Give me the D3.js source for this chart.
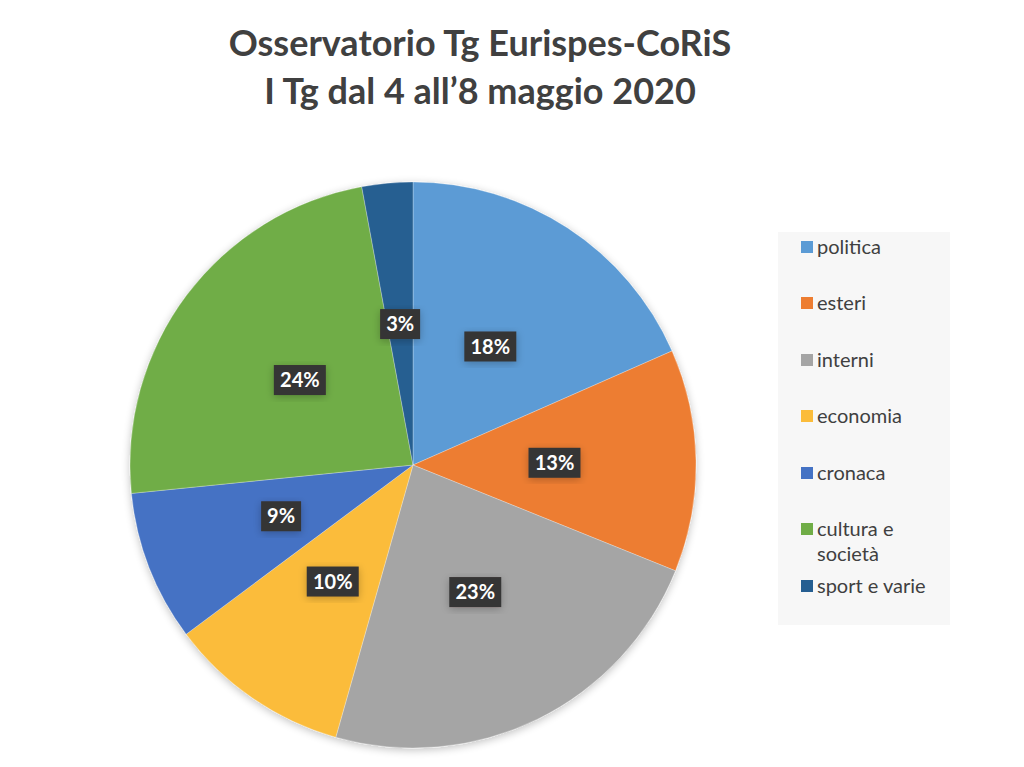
<!DOCTYPE html>
<html><head><meta charset="utf-8">
<script src="https://cdn.jsdelivr.net/npm/d3@7"></script>
<style>body{margin:0;background:#fff;} svg{display:block;}</style>
</head><body>
<svg id="c" width="1024" height="767"></svg>
<script>
const categories = ["politica","esteri","interni","economia","cronaca","cultura e società","sport e varie"];
const values = [18.4, 12.7, 23.3, 10.4, 8.6, 23.7, 2.9];
const labels = ["18%","13%","23%","10%","9%","24%","3%"];
const legendLines = [["politica"],["esteri"],["interni"],["economia"],["cronaca"],["cultura e","società"],["sport e varie"]];
const colors = ["#5B9BD5","#ED7D31","#A5A5A5","#FBBC3A","#4472C4","#70AD47","#255E91"];
const titleLines = ["Osservatorio Tg Eurispes-CoRiS","I Tg dal 4 all’8 maggio 2020"];

const svg = d3.select("#c");
const font = "Lato, 'Open Sans', sans-serif";

const defs = svg.append("defs");
const f = defs.append("filter").attr("id","sh").attr("x","-20%").attr("y","-20%").attr("width","140%").attr("height","140%");
f.append("feGaussianBlur").attr("in","SourceAlpha").attr("stdDeviation",4);
f.append("feOffset").attr("dx",0).attr("dy",2).attr("result","b");
f.append("feComponentTransfer").append("feFuncA").attr("type","linear").attr("slope",0.25);
const m = f.append("feMerge"); m.append("feMergeNode"); m.append("feMergeNode").attr("in","SourceGraphic");

svg.append("g").selectAll("text").data(titleLines).join("text")
  .attr("x",480).attr("y",(d,i)=>56+i*48)
  .attr("text-anchor","middle").attr("font-family",font).attr("font-weight","bold")
  .attr("font-size",36).attr("fill","#404040").text(d=>d);

const cx = 413, cy = 465, R = 283;
const pie = d3.pie().sort(null).value(d=>d);
const arcs = pie(values);
const arc = d3.arc().innerRadius(0).outerRadius(R);
const g = svg.append("g").attr("transform",`translate(${cx},${cy})`);
g.append("g").attr("filter","url(#sh)").selectAll("path").data(arcs).join("path")
  .attr("d",arc).attr("fill",(d,i)=>colors[i]).attr("stroke","#ffffff").attr("stroke-opacity",0.35).attr("stroke-width",0.8);

const lab = g.append("g").selectAll("g").data(arcs).join("g")
  .attr("transform",d=>{const c=arc.centroid(d);return `translate(${c[0]},${c[1]})`;});
lab.append("rect")
  .attr("x",(d,i)=>labels[i].length>2?-26:-20).attr("y",-15)
  .attr("width",(d,i)=>labels[i].length>2?52:40).attr("height",30)
  .attr("fill","#363434").attr("filter","url(#sh)");
lab.append("text").attr("text-anchor","middle").attr("dy","0.36em")
  .attr("font-family",font).attr("font-weight","bold").attr("font-size",20)
  .attr("fill","#ffffff").text((d,i)=>labels[i]);

const lg = svg.append("g");
lg.append("rect").attr("x",778).attr("y",232).attr("width",172).attr("height",393).attr("fill","#f7f7f7");
const rowY = [247,303,360,416,473,529,586];
const items = lg.selectAll("g.it").data(categories).join("g").attr("class","it")
  .attr("transform",(d,i)=>`translate(801,${rowY[i]})`);
items.append("rect").attr("x",0).attr("y",-6).attr("width",12).attr("height",12).attr("fill",(d,i)=>colors[i]);
items.append("text").attr("font-family",font).attr("font-size",20).attr("fill","#404040")
  .selectAll("tspan").data((d,i)=>legendLines[i]).join("tspan")
  .attr("x",16).attr("dy",(d,j)=>j===0?"0.36em":"1.25em").text(d=>d);
</script>
</body></html>
